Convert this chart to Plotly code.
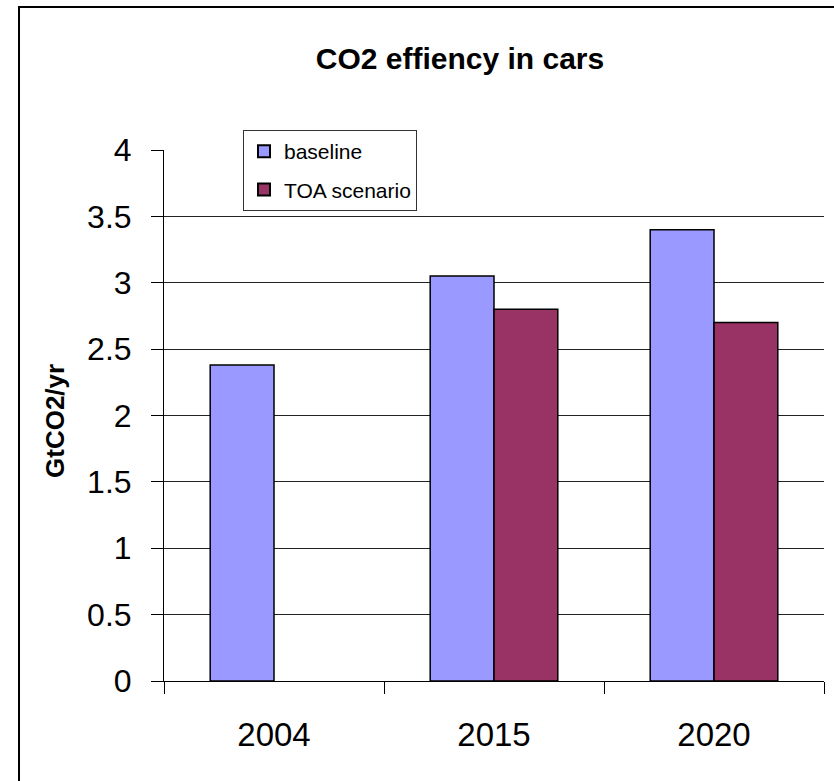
import plotly.graph_objects as go

# Chart data
years = ["2004", "2015", "2020"]
baseline = [2.38, 3.05, 3.40]
toa_scenario = [None, 2.80, 2.70]
y_ticks = [0, 0.5, 1, 1.5, 2, 2.5, 3, 3.5, 4]
y_tick_text = ["0", "0.5", "1", "1.5", "2", "2.5", "3", "3.5", "4"]

W, H = 834, 781
ML, MR, MT, MB = 164, 10, 150, 100
pw, ph = W - ML - MR, H - MT - MB


def px_x(x):
    return (x - ML) / pw


def px_y(y):
    return (H - MB - y) / ph


FONT = "Liberation Sans, Arial, sans-serif"

fig = go.Figure()
fig.add_trace(go.Bar(
    x=years, y=baseline, name="baseline", legendgroup="base",
    marker=dict(color="#9999FF", line=dict(color="black", width=1.5)),
))
fig.add_trace(go.Bar(
    x=years, y=toa_scenario, name="TOA scenario", legendgroup="toa",
    marker=dict(color="#993366", line=dict(color="black", width=1.5)),
))

fig.update_layout(
    width=W, height=H,
    margin=dict(l=ML, r=MR, t=MT, b=MB, pad=0),
    paper_bgcolor="white", plot_bgcolor="white",
    barmode="group", bargap=0.42, bargroupgap=0,
    font=dict(family=FONT, color="black"),
    title=dict(
        text="<b>CO2 effiency in cars</b>",
        x=px_x(460), xref="paper", xanchor="center",
        y=1 - 58 / H, yref="container", yanchor="middle",
        font=dict(size=30, family=FONT, color="black"),
    ),
    showlegend=True,
    legend=dict(
        x=px_x(243), y=px_y(130), xanchor="left", yanchor="top",
        bgcolor="white", bordercolor="#333333", borderwidth=1,
        font=dict(size=21, family=FONT, color="black"),
        tracegroupgap=8, itemsizing="constant",
    ),
    xaxis=dict(
        type="category",
        showline=True, linecolor="black", linewidth=1,
        ticks="outside", tickson="boundaries", ticklen=12, tickcolor="black",
        tickfont=dict(size=33, family=FONT, color="black"),
        ticklabelstandoff=24,
        showgrid=False,
    ),
    yaxis=dict(
        range=[0, 4], tickvals=y_ticks, ticktext=y_tick_text,
        showline=True, linecolor="black", linewidth=1,
        ticks="outside", ticklen=12, tickcolor="black",
        tickfont=dict(size=32, family=FONT, color="black"),
        ticklabelstandoff=13,
        showgrid=True, gridcolor="#222222", gridwidth=1,
        zeroline=False,
    ),
    annotations=[
        dict(text="<b>GtCO2/yr</b>", textangle=-90, showarrow=False,
             xref="paper", yref="paper", x=px_x(55), y=px_y(421),
             xanchor="center", yanchor="middle",
             font=dict(size=26, family=FONT, color="black")),
    ],
    shapes=[
        # frame around the whole chart
        dict(type="rect", xref="paper", yref="paper",
             x0=px_x(19), x1=px_x(W + 20), y0=px_y(H + 20), y1=px_y(7),
             line=dict(color="black", width=2), fillcolor="rgba(0,0,0,0)", layer="above"),
    ],
)

fig.write_html("out.html")
